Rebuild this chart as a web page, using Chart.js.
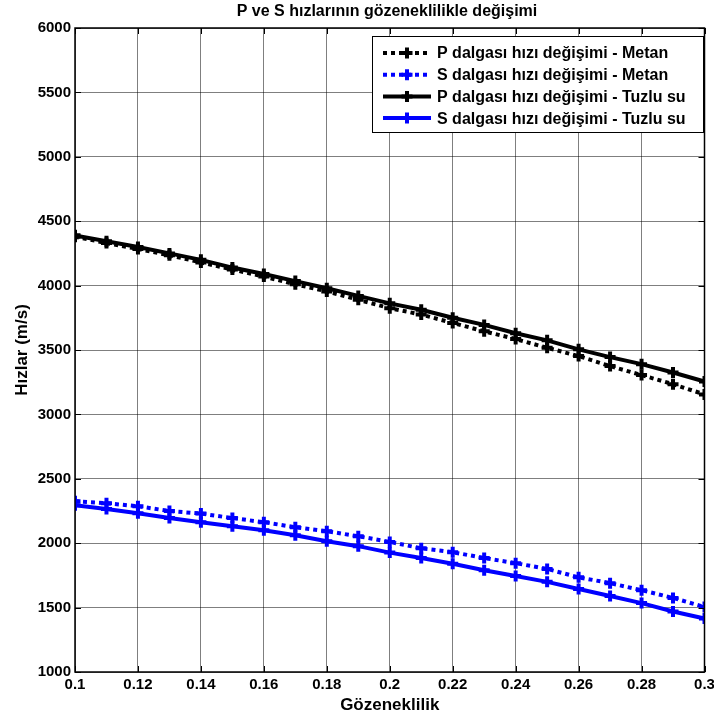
<!DOCTYPE html>
<html lang="tr">
<head>
<meta charset="UTF-8">
<title>P ve S hızlarının gözeneklilikle değişimi</title>
<script src="https://cdn.jsdelivr.net/npm/chart.js"></script>
<style>
  html, body { margin: 0; padding: 0; background: #fff; }
  #wrap { width: 714px; height: 722px; }
</style>
</head>
<body>
<div id="wrap"><canvas id="myChart" width="714" height="722"></canvas></div>
<script>
// gözeneklilik değerleri (x ekseni)
const gozeneklilik = [0.10, 0.11, 0.12, 0.13, 0.14, 0.15, 0.16, 0.17, 0.18, 0.19, 0.20,
                      0.21, 0.22, 0.23, 0.24, 0.25, 0.26, 0.27, 0.28, 0.29, 0.30];

// hızlar (m/s)
const pMetan  = [4380, 4330, 4285, 4235, 4180, 4125, 4070, 4010, 3955, 3890, 3825,
                 3775, 3710, 3645, 3585, 3517, 3453, 3375, 3305, 3235, 3155];
const sMetan  = [2325, 2310, 2287, 2250, 2230, 2195, 2163, 2124, 2093, 2054, 2010,
                 1960, 1930, 1885, 1845, 1800, 1735, 1690, 1635, 1575, 1505];
const pTuzlu  = [4390, 4345, 4300, 4250, 4200, 4140, 4090, 4035, 3980, 3920, 3862,
                 3812, 3750, 3695, 3630, 3575, 3505, 3445, 3390, 3325, 3255];
const sTuzlu  = [2295, 2265, 2233, 2195, 2163, 2132, 2100, 2062, 2015, 1977, 1927,
                 1885, 1840, 1790, 1745, 1700, 1645, 1590, 1535, 1470, 1415];

const xTicks = [0.1, 0.12, 0.14, 0.16, 0.18, 0.2, 0.22, 0.24, 0.26, 0.28, 0.3];
const yTicks = [1000, 1500, 2000, 2500, 3000, 3500, 4000, 4500, 5000, 5500, 6000];

const seriesLabels = [
  'P dalgası hızı değişimi - Metan',
  'S dalgası hızı değişimi - Metan',
  'P dalgası hızı değişimi - Tuzlu su',
  'S dalgası hızı değişimi - Tuzlu su'
];

const FONT = '"Liberation Sans", Arial, sans-serif';

function toPoints(ys) {
  return ys.map((y, i) => ({ x: gozeneklilik[i], y: y }));
}

function seri(label, ys, color, dotted) {
  return {
    label: label,
    data: toPoints(ys),
    borderColor: color,
    backgroundColor: color,
    borderWidth: 4,
    borderDash: dotted ? [4, 4] : [],
    borderCapStyle: 'butt',
    pointStyle: 'cross',
    pointRadius: 5.5,
    pointBorderWidth: 4,
    pointBorderColor: color,
    tension: 0,
    fill: false
  };
}

// çerçeve, içe bakan tik çizgileri, başlıklar ve lejant
const matlabStyle = {
  id: 'matlabStyle',
  afterDraw(chart) {
    const ctx = chart.ctx;
    const a = chart.chartArea;
    const xs = chart.scales.x, ys = chart.scales.y;
    ctx.save();

    ctx.strokeStyle = '#000';
    ctx.lineWidth = 1;
    ctx.beginPath();
    xTicks.forEach(v => {
      const px = Math.round(xs.getPixelForValue(v)) + 0.5;
      ctx.moveTo(px, a.bottom); ctx.lineTo(px, a.bottom - 6);
      ctx.moveTo(px, a.top); ctx.lineTo(px, a.top + 6);
    });
    yTicks.forEach(v => {
      const py = Math.round(ys.getPixelForValue(v)) + 0.5;
      ctx.moveTo(a.left, py); ctx.lineTo(a.left + 6, py);
      ctx.moveTo(a.right, py); ctx.lineTo(a.right - 6, py);
    });
    ctx.stroke();

    ctx.lineWidth = 1.5;
    ctx.strokeRect(a.left, a.top, a.right - a.left, a.bottom - a.top);

    // başlıklar
    ctx.fillStyle = '#000';
    ctx.textAlign = 'center';
    ctx.textBaseline = 'middle';
    const cx = (a.left + a.right) / 2;
    ctx.font = 'bold 16px ' + FONT;
    ctx.fillText('P ve S hızlarının gözeneklilikle değişimi', 387, 12);
    ctx.font = 'bold 17px ' + FONT;
    ctx.fillText('Gözeneklilik', cx, 705);
    ctx.save();
    ctx.translate(22, (a.top + a.bottom) / 2);
    ctx.rotate(-Math.PI / 2);
    ctx.fillText('Hızlar (m/s)', 0, 0);
    ctx.restore();

    // lejant
    const lx = 372, ly = 36, lw = 331, lh = 96;
    ctx.fillStyle = '#fff';
    ctx.fillRect(lx, ly, lw, lh);
    ctx.strokeStyle = '#000';
    ctx.lineWidth = 1;
    ctx.strokeRect(lx + 0.5, ly + 0.5, lw, lh);
    ctx.font = 'bold 16px ' + FONT;
    ctx.textAlign = 'left';
    chart.data.datasets.forEach((ds, i) => {
      const y = ly + 17 + i * 21.7;
      ctx.strokeStyle = ds.borderColor;
      ctx.lineWidth = ds.borderWidth;
      ctx.lineCap = 'butt';
      ctx.setLineDash(ds.borderDash);
      ctx.beginPath();
      ctx.moveTo(383, y); ctx.lineTo(431, y);
      ctx.stroke();
      ctx.setLineDash([]);
      ctx.lineWidth = 4;
      ctx.beginPath();
      ctx.moveTo(407 - 5.5, y); ctx.lineTo(407 + 5.5, y);
      ctx.moveTo(407, y - 5.5); ctx.lineTo(407, y + 5.5);
      ctx.stroke();
      ctx.fillStyle = '#000';
      ctx.fillText(ds.label, 437, y + 1);
    });
    ctx.restore();
  }
};

const config = {
  type: 'line',
  data: {
    datasets: [
      seri(seriesLabels[0], pMetan, '#000000', true),
      seri(seriesLabels[1], sMetan, '#0000ff', true),
      seri(seriesLabels[2], pTuzlu, '#000000', false),
      seri(seriesLabels[3], sTuzlu, '#0000ff', false)
    ]
  },
  options: {
    responsive: false,
    animation: false,
    layout: { padding: { top: 28, right: 9, left: 0, bottom: 0 } },
    plugins: {
      legend: { display: false },
      title: { display: false },
      tooltip: { enabled: false }
    },
    scales: {
      x: {
        type: 'linear',
        min: 0.1,
        max: 0.3,
        afterBuildTicks: s => { s.ticks = xTicks.map(v => ({ value: v })); },
        afterFit: s => { s.height = 50; s.paddingLeft = 0; s.paddingRight = 0; },
        grid: { color: 'rgba(0,0,0,0.5)', lineWidth: 1, drawTicks: false },
        border: { display: false },
        ticks: {
          color: '#000',
          padding: 4,
          maxRotation: 0,
          font: { family: FONT, size: 15, weight: 'bold' },
          callback: v => String(Math.round(v * 100) / 100)
        }
      },
      y: {
        min: 1000,
        max: 6000,
        afterBuildTicks: s => { s.ticks = yTicks.map(v => ({ value: v })); },
        afterFit: s => { s.width = 75; s.paddingTop = 0; s.paddingBottom = 0; },
        grid: { color: 'rgba(0,0,0,0.5)', lineWidth: 1, drawTicks: false },
        border: { display: false },
        ticks: {
          color: '#000',
          padding: 4,
          font: { family: FONT, size: 15, weight: 'bold' },
          callback: v => String(v)
        }
      }
    }
  },
  plugins: [matlabStyle]
};

new Chart(document.getElementById('myChart').getContext('2d'), config);
</script>
</body>
</html>
